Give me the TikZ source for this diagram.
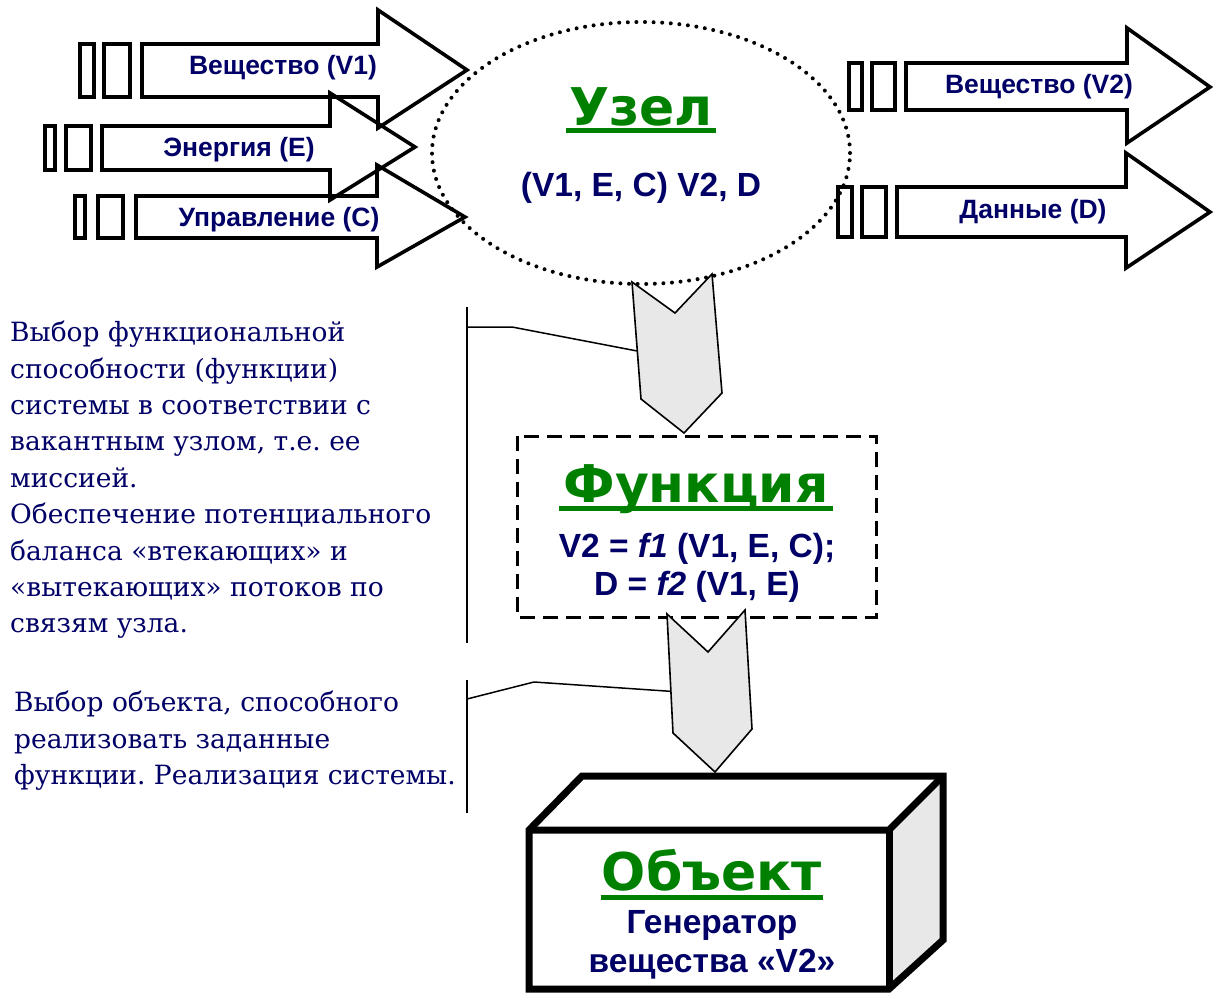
\documentclass[tikz,border=0pt]{standalone}
\usepackage{fontspec}
\setmainfont{DejaVu Serif}
\newfontfamily\lsans{Liberation Sans}
\newfontfamily\dvsans{DejaVu Sans}
\usetikzlibrary{shapes.geometric,calc}
\definecolor{navy}{HTML}{000066}
\definecolor{titlegreen}{HTML}{008000}
\definecolor{facegray}{HTML}{E8E8E8}
\frenchspacing
\tikzset{
  flowarrow/.style={draw=black, line width=3.6pt, line join=miter},
  lbl/.style={font=\lsans\bfseries\fontsize{26.5}{30}\selectfont, text=navy, inner sep=0pt, anchor=base},
  formula/.style={font=\lsans\bfseries\fontsize{33.5}{38}\selectfont, text=navy, inner sep=0pt, anchor=base},
  title/.style={font=\dvsans\bfseries\fontsize{52}{60}\selectfont, text=titlegreen, inner sep=0pt, anchor=base},
  uline/.style={draw=titlegreen, line width=5pt},
  downarrow/.style={draw=black, line width=1.6pt, fill=facegray, line join=miter},
  leader/.style={draw=black, line width=1.5pt},
  note/.style={font=\fontsize{26.5}{36.4}\selectfont, text=navy, inner sep=0pt, anchor=north west, align=left},
  nodeoval/.style={ellipse, draw=black, line width=4pt, dash pattern=on 0pt off 8.6pt, line cap=round, inner sep=0pt},
  funcframe/.style={draw=black, line width=3pt, dash pattern=on 15pt off 8pt},
  boxline/.style={draw=black, line width=7pt, line join=miter}
}
\begin{document}
\begin{tikzpicture}[x=1pt,y=-1pt]
\useasboundingbox (0,0) rectangle (1215,993);

% ---- input arrows ----
\draw[flowarrow] (80,44) rectangle (94,97);
\draw[flowarrow] (104,44) rectangle (130,97);
\draw[flowarrow] (142,44) -- (378,44) -- (378,10) -- (467,70) -- (378,128) -- (378,97) -- (142,97) -- cycle;
\node[lbl] (tv1) at (283,74) {Вещество (V1)};

\draw[flowarrow] (45,126) rectangle (55,170);
\draw[flowarrow] (66,126) rectangle (91,170);
\draw[flowarrow] (102,126) -- (330,126) -- (330,93) -- (415,147) -- (330,200) -- (330,170) -- (102,170) -- cycle;
\node[lbl] (te) at (239,156) {Энергия (E)};

\draw[flowarrow] (75,196) rectangle (85,238);
\draw[flowarrow] (98,196) rectangle (123,238);
\draw[flowarrow] (136,196) -- (377,196) -- (377,165) -- (465,217) -- (377,267) -- (377,238) -- (136,238) -- cycle;
\node[lbl] (tc) at (279,226) {Управление (C)};

% ---- output arrows ----
\draw[flowarrow] (849,63) rectangle (862,110);
\draw[flowarrow] (872,63) rectangle (895,110);
\draw[flowarrow] (906,63) -- (1127,63) -- (1127,28) -- (1210,87) -- (1127,143) -- (1127,110) -- (906,110) -- cycle;
\node[lbl] (tv2) at (1039,93) {Вещество (V2)};

\draw[flowarrow] (838,187) rectangle (852,237);
\draw[flowarrow] (862,187) rectangle (886,237);
\draw[flowarrow] (897,187) -- (1126,187) -- (1126,153) -- (1210,212) -- (1126,268) -- (1126,237) -- (897,237) -- cycle;
\node[lbl] (td) at (1033,218) {Данные (D)};

% ---- node ellipse ----
\node[nodeoval, minimum width=418pt, minimum height=262pt] (uzel) at (641,153) {};
\node[title] (uzeltitle) at (641,125) {Узел};
\draw[uline] ([yshift=-5.5pt,xshift=-3pt]uzeltitle.base west) -- ([yshift=-5.5pt,xshift=3pt]uzeltitle.base east);
\node[formula] (uzelf) at (641,196) {(V1, E, C) V2, D};

% ---- first down arrow ----
\draw[downarrow] (632,282) coordinate (a1tl) -- (675,313) -- (712,274) -- (722,393) -- (684,433) -- (641,399) coordinate (a1bl) -- cycle;
\coordinate (a1hook) at ($(a1tl)!0.59!(a1bl)$);

% ---- function box ----
\draw[funcframe] (517,436) rectangle (876,617);
\node[title] (functitle) at (696,502) {Функция};
\draw[uline] ([yshift=-6pt,xshift=-4pt]functitle.base west) -- ([yshift=-6pt,xshift=4pt]functitle.base east);
\node[formula] (f1) at (697,557) {V2 = \itshape f1\upshape{} (V1, E, C);};
\node[formula] (f2) at (697,595) {D = \itshape f2\upshape{} (V1, E)};

% ---- second down arrow ----
\draw[downarrow] (667,614) coordinate (a2tl) -- (708,652) -- (745,610) -- (752,729) -- (715,772) -- (673,733) coordinate (a2bl) -- cycle;
\coordinate (a2hook) at ($(a2tl)!0.65!(a2bl)$);

% ---- object box ----
\fill[white] (529,830) -- (582,776) -- (943,776) -- (889,830) -- cycle;
\fill[facegray] (889,830) -- (943,776) -- (943,940) -- (889,989) -- cycle;
\fill[white] (529,830) rectangle (889,989);
\draw[boxline] (529,830) -- (582,776) -- (943,776) -- (943,940) -- (889,989) -- (529,989) -- cycle;
\draw[boxline] (529,830) -- (889,830) -- (943,776);
\draw[boxline] (889,830) -- (889,989);
\node[title] (objtitle) at (712,890) {Объект};
\draw[uline] ([yshift=-7pt,xshift=-1pt]objtitle.base west) -- ([yshift=-7pt,xshift=1pt]objtitle.base east);
\node[formula] (gen1) at (712,933) {Генератор};
\node[formula] (gen2) at (712,972) {вещества «V2»};

% ---- leader lines and notes ----
\coordinate (l1top) at (467,307);
\coordinate (l1bot) at (467,643);
\draw[leader] (l1top) -- (l1bot);
\draw[leader] (467,327) -- (512,327) -- (a1hook);
\coordinate (l2top) at (467,680);
\coordinate (l2bot) at (467,813);
\draw[leader] (l2top) -- (l2bot);
\draw[leader] (467,699) -- (534,682) -- (a2hook);

\node[note] (note1) at (10,321) {Выбор функциональной\\способности (функции)\\системы в соответствии с\\вакантным узлом, т.е. ее\\миссией.\\Обеспечение потенциального\\баланса «втекающих» и\\«вытекающих» потоков по\\связям узла.};
\node[note] (note2) at (14,691) {Выбор объекта, способного\\реализовать заданные\\функции. Реализация системы.};
\end{tikzpicture}
\end{document}
